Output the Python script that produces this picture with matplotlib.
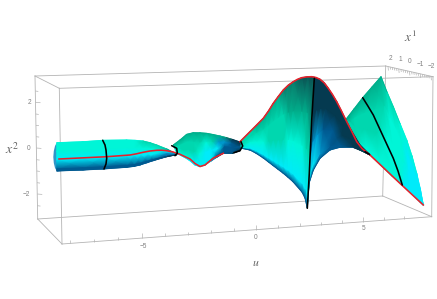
import numpy as np
import matplotlib
matplotlib.use("Agg")
import matplotlib.pyplot as plt
from matplotlib.collections import LineCollection

plt.rcParams['mathtext.fontset'] = 'stix'

# everything is traced in picture pixels, y going down

# surface sheets: top edge, bottom edge, one shade string per column (top -> bottom)
lobe_top_x = [346, 354, 362.7, 372, 381, 387, 393.3, 400, 406.7, 412, 416.7, 420.3, 423.3]
lobe_top_y = [119.3, 109, 97.7, 87, 76.7, 92, 106.7, 123.5, 140, 156, 173.3, 189, 205]
lobe_bot_x = [347, 356, 366, 380, 392, 397, 402.3, 406, 410, 413.5, 417, 420, 423.3]
lobe_bot_y = [122, 140, 151, 164.5, 176, 180.5, 185, 188.7, 192.5, 195.7, 199, 202, 205]
lobe_shade = ["ttqqq", "tqqqa", "tqqaa", "tqqaa", "tqaaa", "qaaaa", "qaaac", "aaacc",
              "acccc", "acccc", "ccccc", "ccccc", "ccccc"]

right_top_x = [314, 320, 324.3, 328.3, 336.7, 345, 351, 360, 370]
right_top_y = [77.2, 79.3, 83, 88.3, 101.7, 118.3, 130, 145, 155]
right_bot_x = [307.3, 309, 313.3, 320, 330, 340, 353, 362, 370]
right_bot_y = [208, 183.3, 170, 158.3, 150, 147.3, 147.3, 151, 155]
right_shade = ["kkbcb", "kkmcb", "kkmcb", "kkbmb", "kkbbb", "kkkbb", "kkkkk", "kkkkk", "kkkkk"]

left_top_x = [240, 250, 256.5, 263.3, 268.5, 273.3, 278.3, 283.3, 288.3, 293.3, 301.7, 308, 314]
left_top_y = [141.7, 131.7, 125.2, 118.3, 111, 103.3, 96.5, 90, 85.2, 81.7, 77.7, 76.9, 77.2]
left_bot_x = [240, 250, 256.5, 263.3, 268.5, 273.3, 278.3, 283.3, 288.3, 293, 302, 305, 307.3]
left_bot_y = [148, 150, 153.5, 158, 162, 165.7, 169.5, 173.3, 177.5, 181.7, 192, 198, 208]
left_shade = ["qqqab", "qqacb", "tqacb", "tqacb", "tqqcb", "tqqcb", "tqqcb", "gqqcb",
              "gtacb", "gtacb", "dtacb", "dtqcb", "dgqcb"]

mid_top_x = [173.3, 180, 186.7, 193.3, 200, 206.7, 213, 220, 226, 232, 240]
mid_top_y = [145, 140, 134.3, 132.7, 132.8, 133.3, 134.5, 136, 137.5, 139.3, 142]
mid_bot_x = [176.7, 183, 189, 195, 200, 205, 211, 216.7, 223.3, 232, 240]
mid_bot_y = [153.3, 156.5, 160, 165, 166.7, 165, 161, 157.3, 153.3, 153.5, 150.7]
mid_shade = ["tqaac", "tqqac", "tqqac", "tqqcc", "tqacc", "tacca", "tqccm", "tmcbb", "gmbbb", "kbbbk", "kkbkk"]

tube_top_x = [56.7, 83, 103, 126.7, 135, 143, 150, 156.7, 166.7, 176.7]
tube_top_y = [142.7, 141.7, 140.3, 140, 140.3, 141, 142.7, 145, 149, 154]
tube_bot_x = [56.7, 83, 103, 126.7, 134, 140, 147, 153, 166.7, 176.7]
tube_bot_y = [171, 170, 169, 167.3, 166.4, 165, 162.7, 160.7, 156.7, 154.7]
tube_shade = ["aacbb", "aacbb", "aacbb", "aacbb", "aacbb", "qacbb", "qacbb", "qacbb", "tcmbk", "tmmbk"]

cap_x = [56.7, 55, 53.8, 53.3, 53.8, 55, 56.7, 58]
cap_y = [142.7, 146, 151, 157, 163, 168, 171, 157]

# curves on the surface
red_a_x = [59, 106.7, 130, 136.5, 143, 150, 156.7, 161.5, 166.7, 173, 180, 190, 195, 200, 205, 213, 223.3]
red_a_y = [159, 156.7, 155, 153.8, 152.3, 151, 150.3, 150.2, 150.7, 152, 154.3, 159, 163.5, 166.5, 165, 158.3, 153.3]
red_b_x = [240, 250, 256.5, 263.3, 268.5, 273.3, 278.3, 283.3, 288.3, 293.3, 297.5, 301.7, 306.7, 311.7, 316,
           320, 324.3, 328.3, 332.5, 336.7, 341, 345, 351, 356.7, 362, 370, 401.7, 423.3]
red_b_y = [141.7, 131.7, 125.2, 118.3, 111, 103.3, 96.5, 90, 85.2, 81.7, 79.3, 77.7, 76.9, 76.7, 77.5,
           79.3, 83, 88.3, 94.5, 101.7, 110, 118.3, 130, 141.7, 148.5, 155, 185, 205]

black_arcs = [
    ([102.7, 105, 106, 106.7, 106, 104], [140.3, 145, 150, 158.3, 164, 169]),
    ([171.7, 176.7, 177.3, 175], [145.7, 148.3, 153.3, 155.7]),
    ([241, 242.7, 240, 234], [141.7, 146, 150.7, 152.7]),
    ([314.3, 311.7, 309.3, 307.3], [78.3, 120, 173.3, 208.3]),
    ([362.7, 367.7, 373.3, 383.3, 393.3, 398, 402.3], [97.7, 105.7, 115, 136.7, 158.3, 171, 185]),
    ([365, 369.3], [151.7, 154.3]),
]

# bounding box corners
box_edges = [
    ([35, 385.7], [76, 66]),
    ([59.3, 433], [88.3, 76.7]),
    ([37.7, 382.7], [219, 196]),
    ([62, 431.7], [244, 216.7]),
    ([35, 37.7], [76, 219]),
    ([59.3, 62], [88.3, 244]),
    ([385.7, 382.7], [66, 196]),
    ([433, 431.7], [76.7, 216.7]),
    ([35, 59.3], [76, 88.3]),
    ([37.7, 62], [219, 244]),
    ([385.7, 433], [66, 76.7]),
    ([382.7, 431.7], [196, 216.7]),
]

# axis ticks
u_ticks = [70, 94.3, 118.3, 142, 165.3, 188.3, 211.3, 234, 256, 278.3, 300, 321.3, 342.3, 363.3, 384.3, 404.3]
u_major = [142, 256, 363.3]
u_labels = ["\u22125", "0", "5"]
u_label_x = [143, 256, 363.3]
u_label_y = [246, 237.5, 229]

x2_ticks = [91, 102.3, 114, 125.3, 136.7, 148, 159.7, 171, 182.7, 194, 205.7]
x2_major = [102.3, 148, 194]
x2_labels = ["2", "0", "\u22122"]
x2_label_x = [29, 29, 26.5]

x1_labels = ["2", "1", "0", "\u22121", "\u22122"]
x1_label_x = [390, 400, 410, 420, 431]
x1_label_y = [58.3, 59.5, 61.7, 64, 66]

palette = {
    'k': (5, 58, 80), 'b': (0, 90, 145), 'm': (0, 150, 205), 'c': (0, 235, 250),
    'a': (0, 245, 215), 'q': (0, 215, 175), 't': (0, 175, 140), 'g': (10, 125, 108),
    'd': (10, 85, 85),
}
row_frac = np.array([0, .3, .6, .93, 1])
box_col = '#b4b4b4'
text_col = '#808080'


def draw_sheet(ax, tx, ty, bx, by, shade):
    tx, ty, bx, by = map(np.array, (tx, ty, bx, by))
    X = np.outer(1 - row_frac, tx) + np.outer(row_frac, bx)
    Y = np.outer(1 - row_frac, ty) + np.outer(row_frac, by)
    C = np.array([[palette[s[i]] for s in shade] for i in range(len(row_frac))]) / 255
    ax.pcolormesh(X, Y, C, shading='gouraud', zorder=2)
    # thin edge so the outline is not jagged
    for ex, ey, row in ((tx, ty, 0), (bx, by, -1)):
        pts = np.column_stack([ex, ey])
        segs = np.stack([pts[:-1], pts[1:]], axis=1)
        cols = [np.array(palette[s[row]]) / 255 for s in shade[:-1]]
        ax.add_collection(LineCollection(segs, colors=cols, linewidths=0.5, zorder=2))


fig = plt.figure(figsize=(4.37, 2.99), dpi=100)
ax = fig.add_axes([0, 0, 1, 1])
ax.set_xlim(0, 437)
ax.set_ylim(299, 0)
ax.axis('off')

for ex, ey in box_edges:
    ax.plot(ex, ey, color=box_col, lw=0.6, zorder=1)

# ticks on the bottom front edge
edge_x, edge_y = box_edges[3]
segs = []
for t in u_ticks:
    y0 = np.interp(t, edge_x, edge_y)
    segs.append([(t, y0), (t, y0 - (5 if t in u_major else 3))])
# ticks on the back left edge
edge_x, edge_y = box_edges[4]
for t in x2_ticks:
    x0 = np.interp(t, edge_y, edge_x)
    segs.append([(x0, t), (x0 + (5 if t in x2_major else 3), t + 0.4)])
# ticks on the top right edge
edge_x, edge_y = box_edges[10]
for i, t in enumerate(np.linspace(388, 431, 21)):
    y0 = np.interp(t, edge_x, edge_y)
    segs.append([(t, y0), (t + 0.4, y0 + (4 if i % 5 == 0 else 2.5))])
ax.add_collection(LineCollection(segs, colors=box_col, linewidths=0.5, zorder=1))

draw_sheet(ax, lobe_top_x, lobe_top_y, lobe_bot_x, lobe_bot_y, lobe_shade)
draw_sheet(ax, right_top_x, right_top_y, right_bot_x, right_bot_y, right_shade)
draw_sheet(ax, left_top_x, left_top_y, left_bot_x, left_bot_y, left_shade)
draw_sheet(ax, mid_top_x, mid_top_y, mid_bot_x, mid_bot_y, mid_shade)
ax.fill(cap_x, cap_y, color='#2f96c8', lw=0, zorder=2)
draw_sheet(ax, tube_top_x, tube_top_y, tube_bot_x, tube_bot_y, tube_shade)

for ax_x, ax_y in black_arcs:
    ax.plot(ax_x, ax_y, color='black', lw=1.15, zorder=4, solid_capstyle='round')
ax.plot(red_a_x, red_a_y, color='#e8202a', lw=1.15, zorder=3)
ax.plot(red_b_x, red_b_y, color='#e8202a', lw=1.15, zorder=3)

tick_font = dict(family='Liberation Sans', fontsize=4.7, color=text_col, ha='center', va='center')
for x, y, s in zip(u_label_x, u_label_y, u_labels):
    ax.text(x, y, s, **tick_font)
for x, y, s in zip(x2_label_x, x2_major, x2_labels):
    ax.text(x, y, s, **tick_font)
for x, y, s in zip(x1_label_x, x1_label_y, x1_labels):
    ax.text(x, y, s, **tick_font)

ax.text(256, 262, '$u$', fontsize=8.5, color='#666666', ha='center', va='center')
ax.text(12, 149, '$x^2$', fontsize=10, color='#666666', ha='center', va='center')
ax.text(410.5, 37, '$x^1$', fontsize=9.5, color='#666666', ha='center', va='center')

fig.savefig('out.png', dpi=100)
